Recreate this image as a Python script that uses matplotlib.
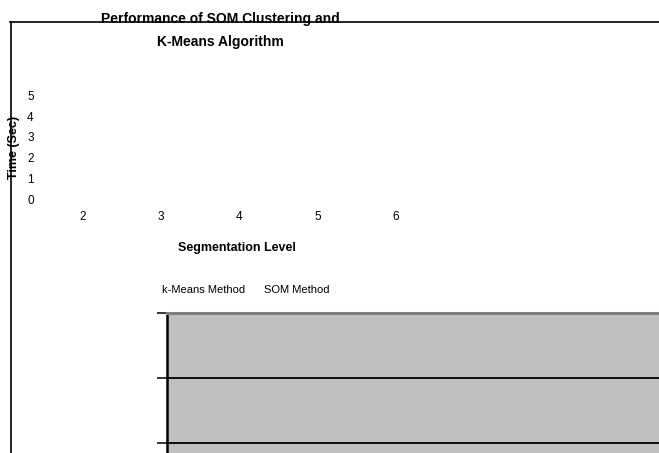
import matplotlib
matplotlib.use("Agg")
import matplotlib.pyplot as plt
from matplotlib.lines import Line2D

# Chart content
segmentation_levels = [2, 3, 4, 5, 6]
time_ticks = [0, 1, 2, 3, 4, 5]
series_names = ["k-Means Method", "SOM Method"]
title_lines = ["Performance of SOM Clustering and", "K-Means Algorithm"]
x_label = "Segmentation Level"
y_label = "Time (Sec)"

plt.rcParams["font.family"] = ["Liberation Sans", "DejaVu Sans"]

W, H = 659, 453
fig = plt.figure(figsize=(W / 100, H / 100), dpi=100)


def fx(px):
    return px / W


def fy(py):
    return 1 - py / H


# Outer chart frame (top and left borders)
fig.add_artist(Line2D([fx(10), 1.0], [fy(22), fy(22)], color="black", lw=1.2,
                      transform=fig.transFigure))
fig.add_artist(Line2D([fx(10.5), fx(10.5)], [fy(22), 0.0], color="black", lw=1.2,
                      transform=fig.transFigure))

# Title (two lines)
fig.text(fx(220), fy(23), title_lines[0], ha="center", va="baseline",
         fontsize=10, fontweight="bold")
fig.text(fx(220), fy(46), title_lines[1], ha="center", va="baseline",
         fontsize=10, fontweight="bold")

# Upper axes: category and value labels only
ax = fig.add_axes([fx(40), fy(199), fx(474) - fx(40), (199 - 95.5) / H])
x_step = (396 - 83) / 4
ax.set_xlim(2 - (83 - 40) / x_step, 2 + (474 - 83) / x_step)
ax.set_ylim(0, 5)
ax.set_xticks(segmentation_levels)
ax.set_yticks(time_ticks)
ax.tick_params(axis="both", length=0, labelsize=8.5)
ax.tick_params(axis="y", pad=4.5)
ax.tick_params(axis="x", pad=9)
for s in ax.spines.values():
    s.set_visible(False)
ax.patch.set_visible(False)

# Axis titles
fig.text(fx(236.5), fy(251), x_label, ha="center", va="baseline",
         fontsize=9, fontweight="bold")
fig.text(fx(14), fy(147), y_label, ha="center", va="center", rotation=90,
         fontsize=9, fontweight="bold")

# Legend entries
fig.text(fx(162), fy(293), series_names[0], ha="left", va="baseline", fontsize=8)
fig.text(fx(264), fy(293), series_names[1], ha="left", va="baseline", fontsize=8)

# Lower plot area
ax2 = fig.add_axes([fx(167), 0.0, 1 - fx(167), (453 - 313) / H])
ax2.set_facecolor("#c0c0c0")
ax2.set_ylim(5 - 140 / 65, 5)
ax2.set_xlim(0, 1)
ax2.set_yticks([t for t in time_ticks if t >= 3])
ax2.set_xticks([])
ax2.tick_params(axis="y", direction="out", length=7.2, width=1.1,
                color="black", labelleft=False)
ax2.grid(axis="y", color="black", lw=1.3)
ax2.set_axisbelow(True)
ax2.spines["top"].set_color("#808080")
ax2.spines["top"].set_linewidth(2.2)
ax2.spines["left"].set_color("black")
ax2.spines["left"].set_linewidth(1.8)
ax2.spines["right"].set_visible(False)
ax2.spines["bottom"].set_visible(False)

fig.savefig("out.png", dpi=100)
